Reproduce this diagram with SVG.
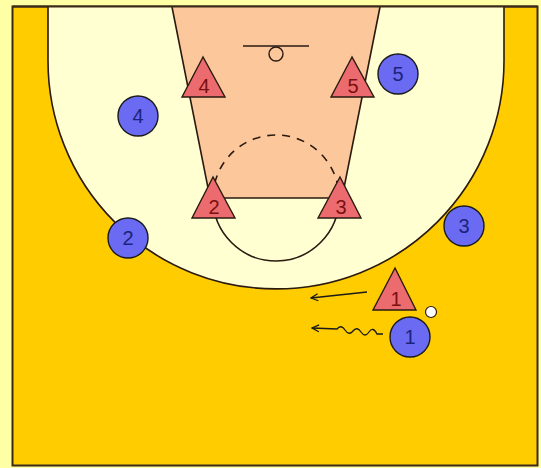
<svg xmlns="http://www.w3.org/2000/svg" width="541" height="468" viewBox="0 0 541 468">
<defs>
<style>
.line{fill:none;stroke:#2a1a10;stroke-width:1.6}
.off{fill:#6a6af2;stroke:#1a1a1a;stroke-width:1.4}
.off text{font-family:"Liberation Sans",Arial,sans-serif;font-size:20px;fill:#1c237a;text-anchor:middle}
.def{fill:#ec6b6e;stroke:#2a1a10;stroke-width:1.4}
.deft{font-family:"Liberation Sans",Arial,sans-serif;font-size:20px;fill:#7a1010;text-anchor:middle}
.conn{fill:none;stroke:#1a1a1a;stroke-width:1.3}
</style>
<marker id="arr" markerWidth="10" markerHeight="10" refX="9" refY="5" orient="auto" markerUnits="userSpaceOnUse">
<path d="M2,1.5 L9,5 L2,8.5" fill="none" stroke="#1a1a1a" stroke-width="1.3"/>
</marker>
</defs>
<rect x="0" y="0" width="541" height="468" fill="#ffffa6"/>
<g id="court">
<rect x="12.5" y="6.5" width="525" height="459" fill="#ffcc00" stroke="#3a2a18" stroke-width="2"/>
<path d="M48,7 L48,61 A228,228 0 0 0 504,61 L504,7 Z" fill="#ffffd2"/>
<path d="M48,7 L48,61 A228,228 0 0 0 504,61 L504,7" class="line"/>
<path d="M172,7 L380,7 L342,198 L210,198 Z" fill="#fcc79a"/>
<path d="M172,7 L210,198 L342,198 L380,7" class="line"/>
<path d="M213,198 A63,63 0 0 0 339,198" class="line"/>
<path d="M213,198 A63,63 0 0 1 339,198" class="line" stroke-dasharray="8,7"/>
<line x1="243" y1="46" x2="309" y2="46" class="line" stroke-width="2"/>
<circle cx="276" cy="54" r="7" fill="#fcc79a" stroke="#2a1a10" stroke-width="1.4"/>
<line x1="12.5" y1="6.5" x2="537.5" y2="6.5" stroke="#3a2a18" stroke-width="2"/>
</g>
<g id="connectors">
<path class="conn" d="M367,292 L311,298" marker-end="url(#arr)"/>
<path class="conn" d="M383,334 L377,334 Q373,326 369,332 T361,332 T353,331 T345,330 T337,329 L312,328" marker-end="url(#arr)"/>
</g>
<g id="d4"><polygon class="def" points="203,57 182,97 225,97"/><text class="deft" x="204" y="93">4</text></g>
<g id="d5"><polygon class="def" points="352,57 331,97 374,97"/><text class="deft" x="353" y="93">5</text></g>
<g id="d2"><polygon class="def" points="213,177 192,218 235,218"/><text class="deft" x="214" y="214">2</text></g>
<g id="d3"><polygon class="def" points="340,177 318,218 361,218"/><text class="deft" x="341" y="214">3</text></g>
<g id="d1"><polygon class="def" points="395,268 373,310 416,310"/><text class="deft" x="396" y="306">1</text></g>
<g id="o4" class="off"><circle cx="138" cy="116" r="20"/><text x="138" y="123" stroke="none">4</text></g>
<g id="o5" class="off"><circle cx="398" cy="74" r="20"/><text x="398" y="81" stroke="none">5</text></g>
<g id="o2" class="off"><circle cx="128" cy="238" r="20"/><text x="128" y="245" stroke="none">2</text></g>
<g id="o3" class="off"><circle cx="464" cy="226" r="20"/><text x="464" y="233" stroke="none">3</text></g>
<g id="o1" class="off"><circle cx="410" cy="337" r="20"/><text x="410" y="344" stroke="none">1</text></g>
<g id="ball"><circle cx="431" cy="312" r="5.5" fill="#ffffff" stroke="#2a1a10" stroke-width="1.2"/></g>
</svg>
